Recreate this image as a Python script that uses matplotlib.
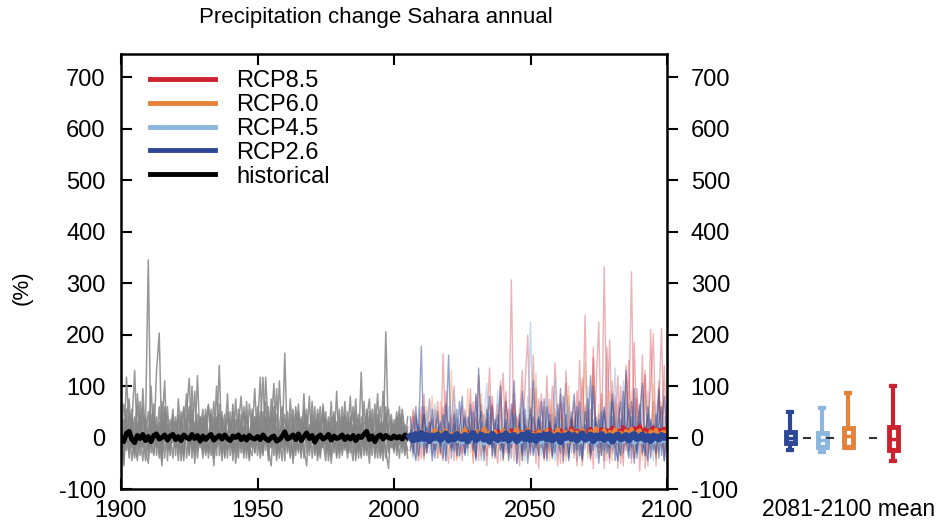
import matplotlib
matplotlib.use("Agg")
import matplotlib.pyplot as plt
import numpy as np

plt.rcParams['font.family'] = ['Liberation Sans', 'DejaVu Sans']
plt.rcParams['axes.unicode_minus'] = False

# --- historical model runs (% change), 1900 onwards ---
hist_runs = [
  [-20, 35, 10, -40, 25, 130, -15, 5, -45, 30, 345, -30, 20, -10, 60, -35, 15, 40, -25, 10,
   -5, 45, -30, 20, 85, -20, 0, 30, -40, 15, 55, -25, 10, -35, 40, 5, 140, -30, 20, -10,
   25, -45, 35, 10, -20, 60, -15, 0, 45, -30, 15, 117, -25, 30, -10, 50, -35, 20, 5, -20,
   164, -30, 10, 40, -25, 15, -40, 55, 0, -15, 30, -20, 45, -35, 10, 25, -10, 70, -30, 5,
   -25, 40, 15, -40, 30, 0, 50, -20, 127, -35, 20, -15, 35, -30, 10, 60, -25, 205, -10, 15,
   -30, 40, 5, -20, 25, 0],
  [45, -30, 117, 20, -45, 15, 60, -20, 0, 35, -35, 25, -10, 127, 203, -25, 40, -15, 10, -40,
   30, 0, -25, 55, 10, -35, 100, -20, 15, 40, -30, 20, 65, -10, -40, 35, 0, 25, -25, 50,
   10, -30, 75, -15, 20, -40, 45, 5, -20, 30, -35, 15, 117, -25, 40, 0, -15, 95, -30, 20,
   45, -20, 10, -35, 60, 5, -25, 30, -10, 80, -40, 15, 35, -20, 0, 50, -30, 20, 10, -35,
   40, -15, 70, 0, -30, 25, -45, 35, 10, -20, 55, -30, 15, 0, 85, -25, 30, -40, 20, 45,
   -15, 10, 60, -30, 15, 5],
  [10, -50, 40, 75, -20, 0, 30, -35, 95, -10, 20, 45, -30, 15, -5, 70, -40, 25, 0, 55,
   -20, 35, 10, -45, 45, 115, -25, 20, -15, 40, 5, -30, 60, 20, -20, 100, -35, 15, 45, -25,
   -10, 50, -30, 25, 80, -15, 10, -40, 35, 0, 60, -20, 15, 40, -35, 20, 105, -25, 5, 30,
   -15, 50, -40, 20, 0, 65, -30, 10, 35, -20, 70, 0, -25, 40, -10, -45, 30, 15, -20, 90,
   -30, 10, 45, -15, 25, 60, -35, 0, 20, -25, 35, 75, -20, 10, -40, 30, 0, 45, -30, 20,
   15, -25, 35, 0, -10, 40],
  [-35, 20, -10, 50, 0, -40, 85, 15, -20, 40, -15, 10, 65, -35, 30, 0, 55, -25, 15, -10,
   40, -30, 20, 60, -40, 10, 35, -20, 120, -15, 25, 45, -30, 0, 70, -20, 15, 40, -35, 10,
   30, 0, -25, 55, -10, 20, -40, 65, 15, -30, 40, 10, -20, 35, -45, 75, 20, -15, 110, 0,
   -25, 30, 15, -40, 45, 10, -20, 85, -30, 20, 0, 60, -35, 15, 40, -25, 10, -10, 50, -40,
   20, 35, -20, 5, 80, -30, 15, 45, -15, 0, -35, 40, 10, 65, -20, 15, -45, 30, 55, -10,
   25, -20, 45, 10, -35, 20],
  [5, -55, 25, -30, 40, -10, -45, 20, 60, -25, -50, 15, 35, -20, 0, -55, 30, 10, -35, 45,
   -10, 20, -45, 0, 35, -30, 55, -50, 15, -20, 40, -35, 5, 25, -55, 20, -15, 50, -40, 10,
   -20, 35, -50, 0, 30, -30, 20, -45, 55, -10, 25, -40, 0, 70, -25, -55, 35, -10, 15, -45,
   20, -15, 45, -50, 10, -30, 40, -20, -55, 25, -10, 35, -45, 0, 55, -30, 20, -50, 10, 30,
   -40, 15, -25, 50, -10, -45, 25, -30, 40, -15, 0, -50, 30, -20, 45, -35, 10, -25, -60, 35,
   -20, 10, -40, 30, -15, -5],
  [30, 10, -25, 15, 55, -35, 0, 45, -15, 20, -25, 100, 0, 40, -30, 20, 110, -45, 35, 5,
   15, -20, 50, -35, 25, 0, -10, 90, -25, 30, -20, 55, -40, 10, 25, -15, 45, -30, 0, 85,
   -35, 20, 10, -25, 45, 0, 70, -20, -35, 40, 0, 50, -30, 117, 15, -20, 40, -45, 25, 60,
   -10, 20, -35, 55, 5, -25, 35, -40, 20, 10, 45, -30, 15, 60, -20, 0, 40, -35, 25, -15,
   10, -25, 40, -30, 15, 45, -15, 20, -40, 70, -10, 25, -35, 45, 0, -20, 90, 10, -25, 30,
   0, 50, -15, 20, -30, 10],
  [-10, 65, 20, -15, 0, 40, -35, 70, 10, -45, 15, -20, 45, 10, -40, 35, 0, 60, -20, 25,
   -35, 75, 5, -25, 15, 45, -40, 10, 30, -15, 20, 0, -25, 45, 10, -35, 65, -5, 30, -40,
   50, -20, 15, 35, -30, 5, 40, -25, 10, 95, -15, 30, -35, 10, 60, -20, 5, 45, -40, 15,
   35, -25, 75, 0, -20, 40, -10, 20, 55, -35, 15, -5, 30, -40, 65, 10, -25, 40, -15, 20,
   55, -35, 0, 30, -20, 10, 75, -40, 25, 15, -25, 50, 0, -15, 35, -40, 20, 60, -5, -20,
   35, -35, 15, 45, 0, -25],
  [20, -40, 55, -5, 30, -25, 15, -15, 40, 0, 50, -10, -35, 25, 15, -45, 60, 0, -20, 30,
   10, -45, 35, -10, 20, 60, -15, -30, 45, 5, -40, 30, -5, 55, -25, 40, 10, -45, 20, 35,
   -5, 65, 0, -40, 25, 50, -30, 15, -15, 40, 20, -30, 50, -10, 25, -5, 60, -35, 0, 40,
   -45, 30, 0, 25, -35, 50, 15, -5, 40, -25, 25, -35, 55, 10, -20, 35, -45, 5, 45, 0,
   -15, 60, 0, -30, 40, -10, 35, 5, -35, 25, 45, -20, 55, -40, 15, 25, -30, 40, 10, -10,
   -25, 30, -10, 55, 10, -40],
]

# multi-model mean, historical
hist_mean = [0, -8, 8, 12, -4, -10, 4, -2, 6, -6, 2, -8, 4, 7, -3, 0, 5, -5, 3, 6,
             -4, 2, -6, 5, 0, -3, 6, -2, 4, -7, 3, -4, 2, 6, -5, 0, 4, -3, 5, -2,
             -6, 3, 0, 5, -4, 2, -5, 4, -1, -3, 2, -4, 5, -2, -6, 0, 3, -7, -4, 2,
             11, -3, 0, 5, -4, 7, -6, 2, 9, -2, 4, -9, 1, 5, -3, 0, 6, -5, 3, -2,
             0, 5, -4, 2, -3, 4, -6, 3, 0, 6, 12, -4, 3, -8, 2, 5, -3, 4, 0, -2,
             3, -1, 2, -3, 5, 0]

# --- scenario runs, 2006 onwards ---
rcp85_runs = [
  [20, -35, 45, -10, 60, -40, 15, 30, -25, 5, 70, -30, 163, -20, 10, 40, -45, 25, 0, -30,
   55, -15, 30, -50, 80, 0, -35, 45, 10, 135, -40, 20, 65, -25, 5, 90, -30, 306, -45, 40,
   15, -35, 100, 199, -20, 30, -50, 75, 10, -40, 120, -25, 45, 0, -55, 85, 20, -35, 60, -15,
   35, -45, 150, 0, 238, -30, 55, -60, 90, 224, -35, 332, 20, -50, 110, -20, 65, 0, -55, 140,
   45, 322, -40, 75, -15, 160, -60, 30, 95, 202, -30, 55, 212, -45, 80],
  [-20, 40, 0, -45, 30, 85, -30, 10, -15, 55, -40, 20, 60, -10, -50, 35, 100, -25, 15, -45,
   45, -20, 10, 70, -35, 120, -10, 30, -55, 25, 65, -30, 0, 110, -45, 20, 55, -20, 85, -50,
   40, 130, -35, 10, 60, -25, 95, -60, 30, 0, -40, 75, -15, 145, 20, -50, 40, 105, -30, 10,
   70, -55, 25, 115, -20, 50, -45, 175, 0, -30, 85, -60, 35, 190, -25, 10, 120, -50, 60, -15,
   150, -40, 20, 95, -65, 45, 130, -30, 5, 70, -55, 110, 0, -40, 60],
  [10, 55, -25, 20, -40, 45, 0, 75, -30, 15, 35, -20, -45, 90, 10, -25, 50, -40, 20, 60,
   -30, 0, 95, -20, 40, -45, 65, 15, -35, 30, 80, -15, -50, 45, 125, -30, 10, -40, 70, 20,
   -55, 50, 0, 35, -35, 160, -20, 25, 85, -45, 15, -30, 100, 40, -25, 65, -50, 130, 0, 35,
   -40, 90, 10, -55, 60, 25, -35, 155, -20, 45, 0, -45, 175, 30, -30, 80, -60, 100, 20, -25,
   65, -50, 185, 0, 40, -35, 120, -55, 210, 15, -40, 90, -20, 140, -50],
]
rcp60_runs = [
  [35, -20, 0, -40, 45, 15, -30, 25, 80, -15, 10, -35, 40, 0, 25, -25, 55, -45, 20, 5,
   -15, 95, -30, 30, 0, 45, -40, 15, 60, -20, 10, -35, 40, 20, -45, 75, 0, -20, 35, 10,
   55, -30, 15, -40, 45, 0, 125, -25, 20, -10, 35, -45, 70, 5, -20, 40, -35, 15, 100, -30,
   0, 50, -25, 20, 145, -40, 10, 35, -15, 65, -30, 20, -45, 90, 0, 40, -25, 15, -40, 120,
   10, -30, 60, -15, 30, -45, 85, 5, -20, 45, -35, 25, 70, -40, 15],
  [-30, 50, 15, -15, 25, -45, 60, 0, -20, 35, -40, 70, -10, 20, -30, 130, 0, 15, -35, 40,
   20, -25, 45, -40, 10, 0, 85, -30, 25, -10, 50, 0, -30, 65, -15, 30, -40, 10, 55, -25,
   15, -45, 40, 0, 95, -20, 30, -35, 10, 60, -25, 20, -40, 55, 10, -15, 35, -45, 80, 0,
   40, -30, 15, -20, 65, 5, -35, 120, 0, -40, 25, 50, -20, 10, -45, 70, 15, -30, 45, 0,
   -25, 90, -40, 20, 55, -15, 0, 40, -35, 105, 10, -30, 60, -20, 30],
]
rcp45_runs = [
  [-10, 30, -40, 55, 0, -25, 20, 75, -35, 10, 40, -20, 0, -45, 60, 15, -30, 35, 0, -15,
   50, -35, 20, 10, -40, 70, -20, 30, -10, 45, -30, 15, 90, -45, 5, 35, -25, 55, -10, 20,
   -40, 65, 10, -20, 224, 0, -35, 40, 15, -30, 75, -15, 25, -45, 50, 5, -25, 95, -35, 20,
   -10, 40, -40, 60, 0, 30, -30, 85, -20, 10, 45, -45, 15, 70, -25, 0, 40, -35, 110, -10,
   20, -40, 55, 0, -30, 80, 10, -20, 35, -45, 65, -25, 15, 40, -35],
  [25, -40, 10, 35, -20, 0, 50, -30, 15, 65, -25, 10, 45, -35, 20, 0, 90, -20, -40, 30,
   10, -30, 55, -15, 25, 0, -45, 40, 105, -20, 15, -35, 30, 0, 60, -25, 10, -40, 45, 5,
   -20, 35, -45, 80, 10, -30, 25, 55, -35, 0, 40, -20, 15, 115, -40, 30, -10, 0, 65, -30,
   20, -45, 50, 5, -25, 100, -15, 35, -40, 10, 60, -30, 0, 45, -20, 135, -45, 20, 5, 75,
   -35, 15, 40, -25, 60, 0, -40, 90, -15, 30, -20, 50, 5, -45, 35],
]
rcp26_runs = [
  [15, -30, 40, 5, 177, -35, 20, -10, 55, -25, 0, 30, -40, 65, 10, -20, 45, -35, 15, 80,
   -30, 20, 0, 50, -45, 135, 10, -25, 35, -15, 60, -40, 25, 0, -30, 70, 15, -20, 45, -50,
   20, 90, -25, 10, 55, -35, 0, 40, -20, 75, -45, 30, 10, -30, 65, 0, -20, 45, -40, 20,
   85, -25, 15, -45, 50, 10, -30, 100, -15, 35, -35, 60, 0, -20, 40, -45, 25, 70, -30, 10,
   55, -20, 95, -40, 30, 0, -35, 60, 15, -25, 45, -40, 20, 80, -15],
  [-25, 20, 60, -35, 10, 45, -20, 30, -45, 5, 50, -30, 15, 0, 160, -40, 25, -15, 70, 0,
   -35, 40, 15, -25, 85, -10, 30, -45, 55, 10, -20, 35, 0, 100, -40, 20, -30, 65, 5, -15,
   45, -45, 25, 10, -30, 110, -20, 35, 0, -40, 60, 15, -35, 40, -10, 95, -45, 20, 5, 50,
   -30, 15, 70, -40, 25, 0, 120, -25, 40, -50, 10, 55, -30, 20, 85, -15, -45, 35, 0, 130,
   -25, 40, -50, 15, 65, -30, 10, 45, -40, 25, 0, 95, -35, 20, -20],
  [40, -10, -45, 25, 0, 60, -30, 15, 35, -40, 20, -15, 45, -45, 30, 5, -25, 55, -35, 10,
   40, -20, 65, 0, -40, 25, 50, -15, 10, 80, -35, 15, 45, -25, 0, 35, -45, 20, 110, -10,
   30, -30, 55, -50, 15, 40, 5, -35, 70, 10, -20, 45, -40, 25, 0, -30, 80, 15, -45, 35,
   10, 60, -35, 20, -10, 75, -40, 0, 30, -20, 50, -25, 15, -40, 70, 20, -10, -35, 90, -5,
   -40, 70, 10, -30, 45, 105, -20, -45, 35, 0, -30, 25, 60, -45, 10],
]

# multi-model means per scenario
rcp26_mean = [2, -5, 6, -3, 8, -2, 4, -6, 3, 0, 5, -4, 2, 7, -5, 1, -3, 6, 0, -2,
              4, -6, 3, 8, -4, 0, 5, -3, 2, -7, 6, 0, -4, 3, -2, 7, -5, 2, 4, -6,
              0, 5, -3, 9, -4, 2, -6, 3, 0, 5, -3, 6, -5, 1, 4, -8, 3, 0, 6, -2,
              4, -5, 2, 7, -3, 0, 5, -6, 3, -1, 6, -4, 1, 3, -7, 2, 5, -3, 0, 4,
              -5, 3, 6, -2, 0, 5, -4, 2, -6, 3, 1, -3, 4, 0, 2]
rcp45_mean = [-3, -8, 0, -5, -10, -2, -7, 1, -6, -9, -4, 0, -8, -3, -11, -5, -1, -7, -4, -10,
              -2, -6, -9, 0, -5, -8, -3, -12, -6, -1, -7, -4, -10, -2, -8, -5, 0, -9, -6, -3,
              -11, -4, -7, 0, -6, -9, -2, -5, -10, -3, -7, -1, -8, -4, -12, -6, -2, -9, -5, 0,
              -8, -3, -10, -6, -1, -9, -4, -7, -11, -2, -6, -8, -3, -10, -5, 0, -7, -4, -9, -2,
              -8, -5, -11, -3, -6, -9, -1, -7, -4, -10, -5, -2, -8, -6, -3]
rcp60_mean = [5, -6, 10, 0, 12, -4, 8, -8, 6, 15, -2, 9, 3, 14, -5, 7, 0, 11, -7, 4,
              16, -3, 8, 2, 13, -6, 5, 18, -1, 9, 3, 12, -8, 6, 14, 0, 10, -5, 7, 17,
              -4, 11, 4, 15, -2, 8, -9, 12, 5, 1, 14, -6, 9, 3, 16, -3, 7, 11, -8, 13,
              2, 10, -5, 15, 6, -4, 12, 4, 18, -2, 8, 14, -6, 11, 3, 16, 0, 9, -7, 13,
              5, 17, -3, 10, 14, 2, 8, -5, 12, 6, 15, -2, 9, 11, 4]
rcp85_mean = [0, 6, -5, 4, -2, 8, -6, 3, 5, -3, 7, -4, 2, 9, -5, 4, 0, 8, -3, 6,
              -2, 10, 3, -6, 8, 1, 11, -4, 6, 2, 9, -3, 12, 4, -5, 10, 2, 14, -2, 7,
              11, 0, 8, 15, -3, 9, 5, 13, -1, 10, 6, 16, 2, 11, -4, 14, 7, 12, 3, 18,
              8, 13, 0, 15, 10, 5, 17, 2, 12, 9, 16, 4, 14, 11, 19, 6, 13, 8, 20, 10,
              15, 7, 18, 12, 22, 9, 16, 11, 14, 19, 8, 15, 12, 17, 10]

# 2081-2100 mean spread per scenario: low whisker, q1, median, q3, high whisker
box_names = ["RCP2.6", "RCP4.5", "RCP6.0", "RCP8.5"]
box_low = [-25, -29, -21, -45]
box_q1 = [-10, -19, -19, -25]
box_med = [0, -5, 3, -3]
box_q3 = [10, 8, 18, 20]
box_high = [50, 58, 86, 101]

c85, c60, c45, c26 = "#cc2230", "#e5823a", "#8db6dc", "#2c4796"

fig = plt.figure(figsize=(9.39, 5.29), dpi=100)
ax = fig.add_axes([121/939, 1 - 489/529, 546/939, 435/529])

def years_for(vals, start):
  return np.arange(start, start + len(vals))

# spaghetti
for run in hist_runs:
  ax.plot(years_for(run, 1900), run, color="0.52", lw=1.1, alpha=0.85)
for runs, col, a in [(rcp85_runs, c85, 0.35), (rcp60_runs, c60, 0.35),
                     (rcp45_runs, c45, 0.5), (rcp26_runs, c26, 0.5)]:
  for run in runs:
    ax.plot(years_for(run, 2006), run, color=col, lw=1.0, alpha=a)

# means
hh, = ax.plot(years_for(hist_mean, 1900), hist_mean, color="black", lw=3.5, label="historical")
h85, = ax.plot(years_for(rcp85_mean, 2006), rcp85_mean, color=c85, lw=3, label="RCP8.5")
h60, = ax.plot(years_for(rcp60_mean, 2006), rcp60_mean, color=c60, lw=3, label="RCP6.0")
h45, = ax.plot(years_for(rcp45_mean, 2006), rcp45_mean, color=c45, lw=3, label="RCP4.5")
h26, = ax.plot(years_for(rcp26_mean, 2006), rcp26_mean, color=c26, lw=5, label="RCP2.6")

ax.set_xlim(1900, 2100)
ax.set_ylim(-100, 745)
ax.set_xticks([1900, 1950, 2000, 2050, 2100])
ax.set_yticks(range(-100, 701, 100))
for s in ax.spines.values():
  s.set_linewidth(1.8)
ax.tick_params(axis="x", direction="in", top=True, length=8, width=1.5, labelsize=17, pad=8)
ax.tick_params(axis="y", direction="in", right=False, length=8, width=1.5, labelsize=17, pad=11)

ax2 = ax.twinx()
ax2.set_ylim(ax.get_ylim())
ax2.set_yticks(range(-100, 701, 100))
ax2.tick_params(axis="y", direction="out", length=8, width=1.5, labelsize=17, pad=9)
for s in ax2.spines.values():
  s.set_visible(False)

handles = [h85, h60, h45, h26, hh]
leg = ax.legend(handles=handles, loc="upper left", bbox_to_anchor=(150/939, 1 - 70/529),
                bbox_transform=fig.transFigure, frameon=False, fontsize=17,
                handlelength=2.75, handletextpad=0.9, labelspacing=0.08,
                borderpad=0, borderaxespad=0)
for ln in leg.get_lines():
  ln.set_linewidth(3.5)

fig.text(376/939, 1 - 18/529, "Precipitation change Sahara annual", ha="center", va="center", fontsize=16)
fig.text(22/939, 1 - 288/529, "(%)", ha="center", va="center", rotation=90, fontsize=16)

# box panel for 2081-2100 means
bx = fig.add_axes([770/939, 1 - 489/529, 140/939, 435/529])
bx.set_xlim(0, 140)
bx.set_ylim(ax.get_ylim())
bx.axis("off")
box_pos = [20, 52, 78, 123]
dash_pos = [37, 60, 103]
box_cols = [c26, c45, c60, c85]
stats = []
for i in range(4):
  stats.append(dict(whislo=box_low[i], q1=box_q1[i], med=box_med[i], q3=box_q3[i], whishi=box_high[i]))
bp = bx.bxp(stats, positions=box_pos, widths=9, showfliers=False, patch_artist=True,
            manage_ticks=False)
for i, col in enumerate(box_cols):
  bp["boxes"][i].set(facecolor="white", edgecolor=col, linewidth=3.5)
  bp["medians"][i].set(color=col, linewidth=2.5)
  for k in (2*i, 2*i + 1):
    bp["whiskers"][k].set(color=col, linewidth=3)
    bp["caps"][k].set(color=col, linewidth=3)
bx.plot(dash_pos, [0]*len(dash_pos), linestyle="none", marker="_", markersize=6, mew=1.5, color="0.2")
fig.text(849/939, 1 - 510/529, "2081-2100 mean", ha="center", va="center", fontsize=16.5)

fig.savefig("out.png", dpi=100)
